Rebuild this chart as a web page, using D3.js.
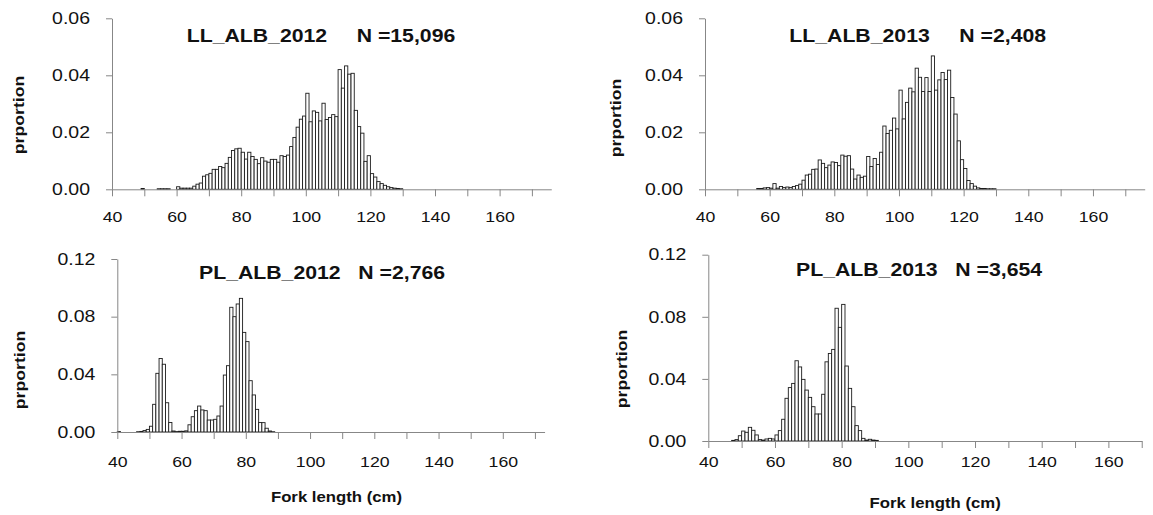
<!DOCTYPE html>
<html>
<head>
<meta charset="utf-8">
<script src="https://cdn.jsdelivr.net/npm/d3@7"></script>
<style>
body { margin: 0; background: #fff; }
svg text { font-family: "Liberation Sans", Arial, sans-serif; fill: #111; }
</style>
</head>
<body>
<svg id="chart" width="1153" height="515"></svg>
<script>
// ---- data: fork length bins (cm) and proportions
var ll2012Len = [49,54,55,56,57,60,61,62,63,64,65,66,67,68,69,70,71,72,73,74,75,76,77,78,79,
    80,81,82,83,84,85,86,87,88,89,90,91,92,93,94,95,96,97,98,99,100,101,102,103,104,105,106,107,108,109,
    110,111,112,113,114,115,116,117,118,119,120,121,122,123,124,125,126,127,128,129];
var ll2012Prop = [0.0003,0.0002,0.0002,0.0002,0.0002,0.0009,0.0004,0.0004,0.0004,0.0004,
    0.0011,0.0018,0.0022,0.0046,0.0051,0.0056,0.0070,0.0070,0.0080,0.0076,0.0091,0.0112,0.0136,0.0142,0.0144,
    0.0130,0.0106,0.0130,0.0115,0.0105,0.0090,0.0111,0.0099,0.0095,0.0105,0.0105,0.0095,0.0118,0.0115,0.0120,
    0.0150,0.0182,0.0218,0.0246,0.0257,0.0337,0.0237,0.0275,0.0270,0.0240,0.0302,0.0245,0.0252,0.0262,0.0255,
    0.0420,0.0355,0.0433,0.0404,0.0407,0.0277,0.0220,0.0197,0.0098,0.0118,0.0055,0.0043,0.0027,0.0020,0.0014,
    0.0009,0.0006,0.0004,0.0003,0.0002];

var ll2013Len = [56,57,58,59,60,61,62,63,64,65,66,67,68,69,70,71,72,73,74,75,76,77,78,79,
    80,81,82,83,84,85,86,87,88,89,90,91,92,93,94,95,96,97,98,99,100,101,102,103,104,105,106,107,108,109,
    110,111,112,113,114,115,116,117,118,119,120,121,122,123,124,125,126,127,128,129];
var ll2013Prop = [0.0003,0.0003,0.0005,0.0006,0.0004,0.0020,0.0004,0.0010,0.0006,0.0008,0.0006,0.0010,0.0013,0.0018,
    0.0032,0.0050,0.0053,0.0070,0.0071,0.0103,0.0091,0.0076,0.0085,0.0096,
    0.0094,0.0083,0.0120,0.0116,0.0118,0.0071,0.0036,0.0050,0.0042,0.0046,0.0115,0.0080,0.0108,0.0087,0.0130,
    0.0222,0.0196,0.0207,0.0250,0.0212,0.0348,0.0247,0.0305,0.0355,0.0342,0.0425,0.0393,0.0343,0.0392,0.0343,
    0.0468,0.0348,0.0384,0.0410,0.0385,0.0418,0.0322,0.0264,0.0170,0.0104,0.0073,0.0031,0.0020,0.0011,0.0005,
    0.0003,0.0003,0.0002,0.0002,0.0002];

var pl2012Len = [40,46,47,48,49,50,51,52,53,54,55,56,57,58,59,60,61,62,63,64,65,66,67,68,69,
    70,71,72,73,74,75,76,77,78,79,80,81,82,83,84,85,86,87,88];
var pl2012Prop = [0.0003,0.0002,0.0004,0.0010,0.0018,0.0040,0.0192,0.0407,0.0510,0.0470,0.0203,0.0066,0.0007,
    0.0003,0.0005,0.0005,0.0008,0.0050,0.0106,0.0148,0.0180,0.0153,0.0148,0.0083,0.0083,
    0.0088,0.0111,0.0180,0.0395,0.0460,0.0865,0.0800,0.0888,0.0927,0.0691,0.0627,0.0356,0.0257,0.0157,
    0.0066,0.0065,0.0026,0.0007,0.0002];

var pl2013Len = [47,48,49,50,51,52,53,54,55,56,57,58,59,60,61,62,63,64,65,66,67,68,69,
    70,71,72,73,74,75,76,77,78,79,80,81,82,83,84,85,86,87,88,89,90];
var pl2013Prop = [0.0004,0.0009,0.0034,0.0064,0.0056,0.0088,0.0069,0.0039,0.0009,0.0006,0.0013,0.0017,0.0013,
    0.0039,0.0067,0.0140,0.0275,0.0344,0.0371,0.0517,0.0477,0.0397,0.0328,
    0.0281,0.0221,0.0174,0.0174,0.0301,0.0510,0.0564,0.0590,0.0855,0.0732,0.0880,0.0483,0.0339,0.0221,
    0.0099,0.0067,0.0017,0.0006,0.0011,0.0006,0.0004];

var xTickValues = [40,50,60,70,80,90,100,110,120,130,140,150,160,170];
var xTickLabels = ["40","","60","","80","","100","","120","","140","","160",""];
var yTicksLL = [0, 0.02, 0.04, 0.06];
var yTicksPL = [0, 0.04, 0.08, 0.12];
var titles = ["LL_ALB_2012     N =15,096", "LL_ALB_2013     N =2,408",
              "PL_ALB_2012   N =2,766", "PL_ALB_2013   N =3,654"];
var yTitle = "prportion";
var xTitle = "Fork length (cm)";

// ---- layout of the four panels
var panels = [
    {len: ll2012Len, prop: ll2012Prop, title: titles[0], yTicks: yTicksLL, yMax: 0.06,
     left: 112, base: 189.3, top: 18.3, cm: 3.23, xEnd: 176, xPad: 15,
     tx: 186.7, ty: 41.7, yx: 18.5, yy: 115},
    {len: ll2013Len, prop: ll2013Prop, title: titles[1], yTicks: yTicksLL, yMax: 0.06,
     left: 705, base: 189.3, top: 18.3, cm: 3.233, xEnd: 176, xPad: 15,
     tx: 789.3, ty: 41.7, yx: 615.8, yy: 118},
    {len: pl2012Len, prop: pl2012Prop, title: titles[2], yTicks: yTicksPL, yMax: 0.12,
     left: 117.3, base: 432, top: 259, cm: 3.2125, xEnd: 173, xPad: 17,
     tx: 199, ty: 279.3, yx: 20, yy: 370, fx: 336.5, fy: 501.7},
    {len: pl2013Len, prop: pl2013Prop, title: titles[3], yTicks: yTicksPL, yMax: 0.12,
     left: 708.3, base: 441, top: 254.7, cm: 3.334, xEnd: 170, xPad: 8,
     tx: 796, ty: 276, yx: 621.7, yy: 369, fx: 935.2, fy: 508.3}
];

var svg = d3.select("#chart");
var axisColor = "#878787";
var stretchK = 1.18;

// text in the picture is wider than Arial, so widen it a bit
function stretch(sel) {
    sel.each(function () {
        var w = this.getComputedTextLength();
        if (w > 0) {
            this.setAttribute("textLength", w * stretchK);
            this.setAttribute("lengthAdjust", "spacingAndGlyphs");
        }
    });
}

function drawPanel(p) {
    var g = svg.append("g");

    var x = d3.scaleLinear()
        .domain([40, p.xEnd])
        .range([p.left, p.left + (p.xEnd - 40) * p.cm]);

    var y = d3.scaleLinear()
        .domain([0, p.yMax])
        .range([p.base, p.top]);

    var bins = p.len.map(function (d, i) { return {len: d, v: p.prop[i]}; });

    g.append("g").selectAll("rect")
        .data(bins)
        .enter().append("rect")
        .attr("x", function (d) { return x(d.len); })
        .attr("width", function (d) { return x(d.len + 1) - x(d.len); })
        .attr("y", function (d) { return y(d.v); })
        .attr("height", function (d) { return y(0) - y(d.v); })
        .attr("fill", "#fff")
        .attr("stroke", "#1c1c1c")
        .attr("stroke-width", 0.9);

    var xAxis = g.append("g")
        .attr("transform", "translate(0," + p.base + ")")
        .call(d3.axisBottom(x)
            .tickValues(xTickValues)
            .tickFormat(function (d, i) { return xTickLabels[i]; })
            .tickSize(7).tickSizeOuter(0).tickPadding(p.xPad));

    var yAxis = g.append("g")
        .attr("transform", "translate(" + p.left + ",0)")
        .call(d3.axisLeft(y)
            .tickValues(p.yTicks)
            .tickFormat(d3.format(".2f"))
            .tickSize(6).tickSizeOuter(0).tickPadding(16));

    [xAxis, yAxis].forEach(function (a) {
        a.select(".domain").attr("stroke", axisColor);
        a.selectAll(".tick line").attr("stroke", axisColor);
        a.selectAll(".tick text").attr("fill", "#1a1a1a").attr("font-family", null);
    });
    xAxis.selectAll(".tick text").style("font-size", "15px");
    yAxis.selectAll(".tick text").style("font-size", "16.5px");
    stretch(xAxis.selectAll(".tick text"));
    stretch(yAxis.selectAll(".tick text"));

    var t = g.append("text")
        .attr("x", p.tx).attr("y", p.ty)
        .style("font-size", "18px").style("font-weight", "bold").style("white-space", "pre")
        .text(p.title);
    stretch(t);

    var yt = g.append("text")
        .attr("transform", "translate(" + p.yx + "," + p.yy + ") rotate(-90)")
        .attr("text-anchor", "middle").attr("dy", "0.35em")
        .style("font-size", "15px").style("font-weight", "bold")
        .text(yTitle);
    stretch(yt);

    if (p.fx) {
        var xt = g.append("text")
            .attr("x", p.fx).attr("y", p.fy)
            .attr("text-anchor", "middle")
            .style("font-size", "14.2px").style("font-weight", "bold")
            .text(xTitle);
        stretch(xt);
    }
}

panels.forEach(drawPanel);
</script>
</body>
</html>
